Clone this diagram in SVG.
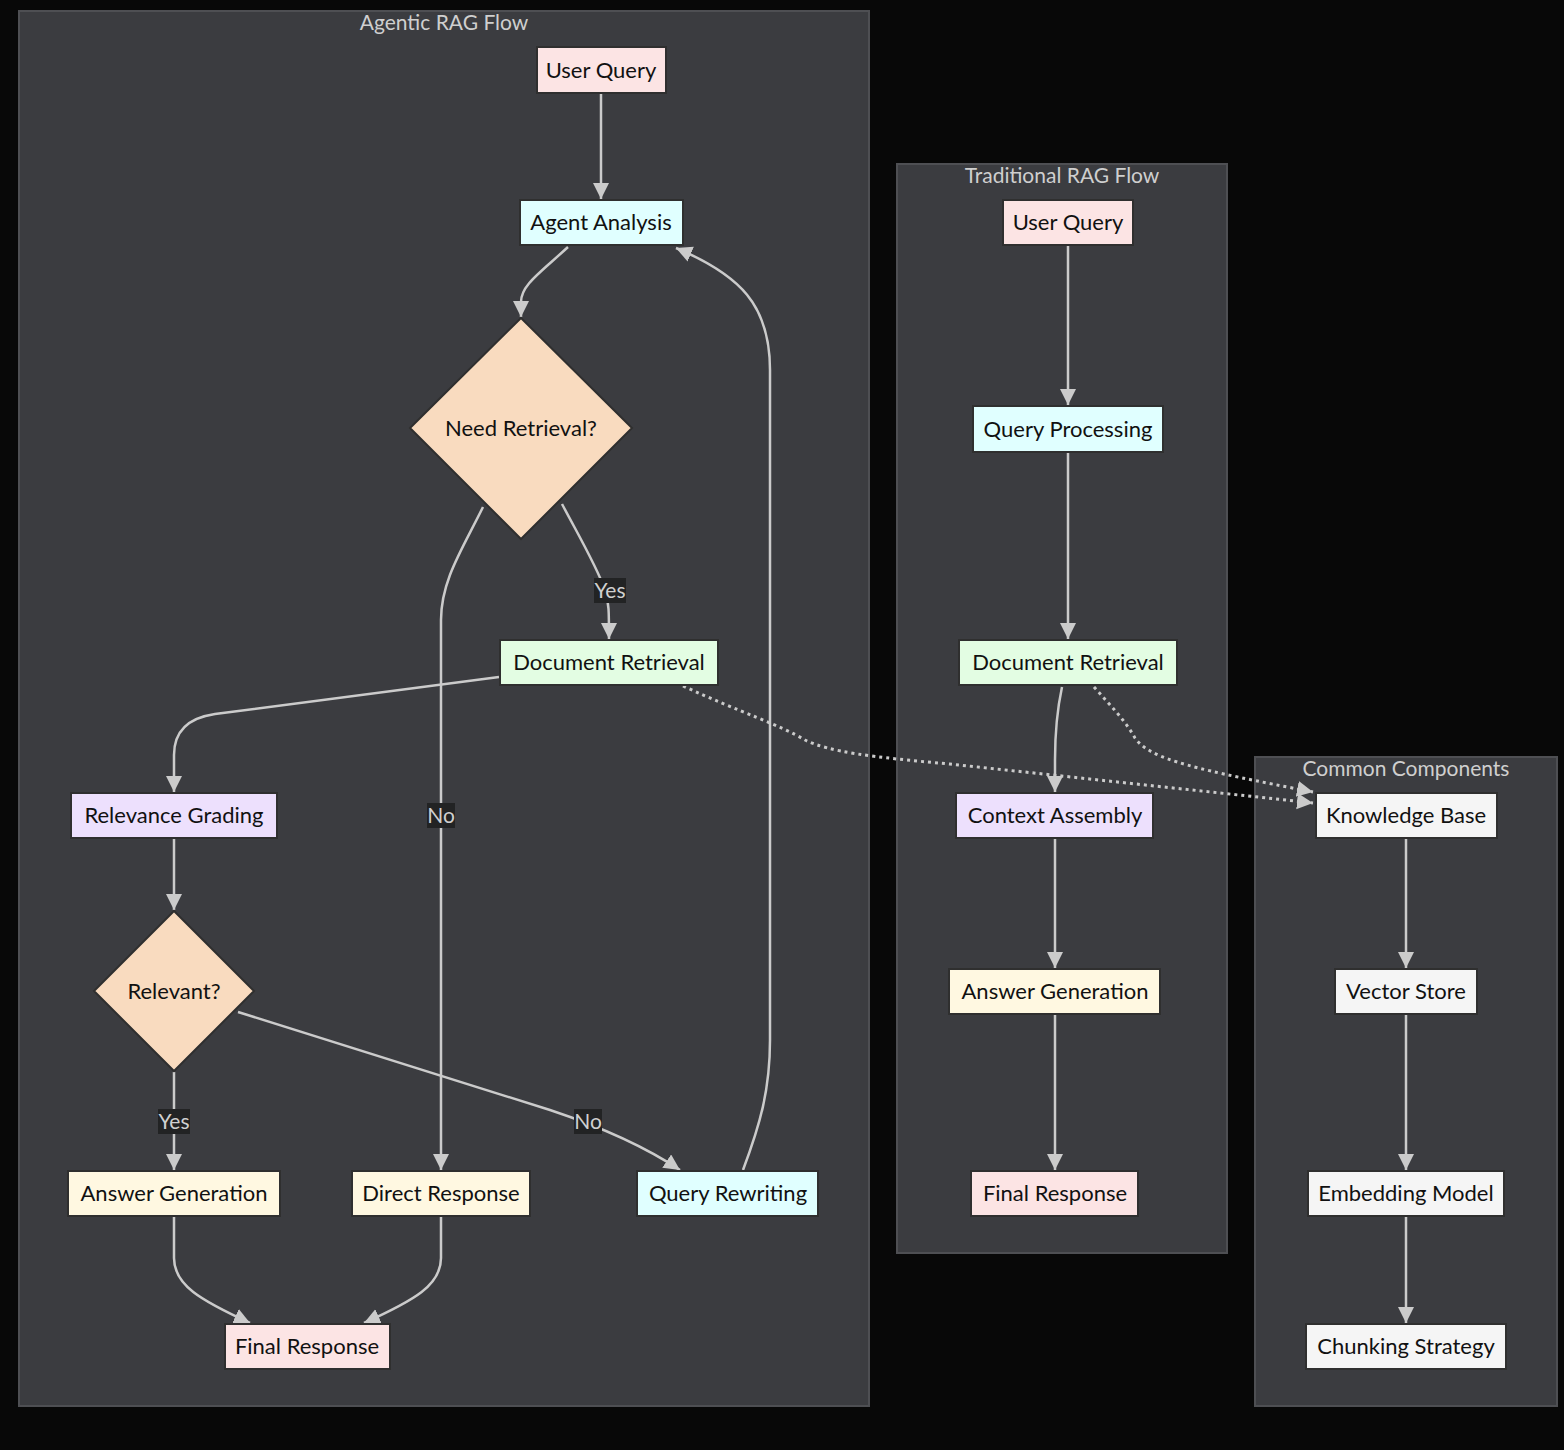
<svg xmlns="http://www.w3.org/2000/svg" width="1564" height="1450" viewBox="0 0 1564 1450">
<style>
.cl{fill:#3b3c40;stroke:#4e4f53;stroke-width:2}
.ct{font-family:"Lato","Liberation Sans",sans-serif;font-size:21px;fill:#cfcfcf;text-anchor:middle}
.n{stroke:#2f2f2f;stroke-width:2}
.t{font-family:"Lato","Liberation Sans",sans-serif;font-size:22px;fill:#111;text-anchor:middle}
.e{fill:none;stroke:#cbcbcb;stroke-width:2.5}
.d{stroke-dasharray:3 4;stroke-width:3}
.lb{fill:#222324}
.lt{font-family:"Lato","Liberation Sans",sans-serif;font-size:21px;fill:#d0d0d0;text-anchor:middle}
.pk{fill:#fce4e4}.cy{fill:#e0ffff}.pe{fill:#f9dbbf}.gr{fill:#e3fde3}.lv{fill:#ede0fd}.ye{fill:#fff8e1}.wh{fill:#f5f5f5}
</style>
<defs>
<marker id="ar" markerUnits="userSpaceOnUse" markerWidth="18" markerHeight="18" refX="16" refY="8" orient="auto">
<path d="M0,0 L16,8 L0,16 z" fill="#cbcbcb"/>
</marker>
</defs>
<rect x="0" y="0" width="1564" height="1450" fill="#080808"/>
<g id="clusters">
<g id="agentic"><rect class="cl" x="19" y="11" width="850" height="1395"/><text class="ct" x="444" y="30">Agentic RAG Flow</text></g>
<g id="traditional"><rect class="cl" x="897" y="164" width="330" height="1089"/><text class="ct" x="1062" y="183">Traditional RAG Flow</text></g>
<g id="common"><rect class="cl" x="1255" y="757" width="302" height="649"/><text class="ct" x="1406" y="776">Common Components</text></g>
</g>
<g id="edges">
<path class="e" marker-end="url(#ar)" d="M601,94 L601,199"/>
<path class="e" marker-end="url(#ar)" d="M568,247 C540,273 521,285 521,302 L521,317"/>
<path class="e" marker-end="url(#ar)" d="M562,504 C580,538 597,567 605,590 C609,602 609,612 609,639"/>
<path class="e" marker-end="url(#ar)" d="M483,507 C463,548 441,580 441,620 L441,1170"/>
<path class="e" marker-end="url(#ar)" d="M499,677 L215,714 Q174,720 174,755 L174,792"/>
<path class="e" marker-end="url(#ar)" d="M174,839 L174,910"/>
<path class="e" marker-end="url(#ar)" d="M174,1072 L174,1170"/>
<path class="e" marker-end="url(#ar)" d="M238,1012 L550,1110 C610,1130 650,1150 680,1170"/>
<path class="e" marker-end="url(#ar)" d="M743,1170 C760,1125 770,1090 770,1040 L770,370 C770,305 740,275 676,248"/>
<path class="e" marker-end="url(#ar)" d="M174,1217 L174,1258 C174,1285 200,1300 250,1323"/>
<path class="e" marker-end="url(#ar)" d="M441,1217 L441,1258 C441,1285 415,1300 364,1323"/>
<path class="e d" marker-end="url(#ar)" d="M683,686 C740,712 780,725 805,740 C830,752 870,757 950,764 L1313,803"/>
<path class="e d" marker-end="url(#ar)" d="M1094,687 C1110,705 1125,720 1135,738 C1150,760 1200,770 1313,792"/>
<path class="e" marker-end="url(#ar)" d="M1068,246 L1068,405"/>
<path class="e" marker-end="url(#ar)" d="M1068,453 L1068,639"/>
<path class="e" marker-end="url(#ar)" d="M1062,687 C1056,715 1055,740 1055,760 L1055,792"/>
<path class="e" marker-end="url(#ar)" d="M1055,839 L1055,968"/>
<path class="e" marker-end="url(#ar)" d="M1055,1015 L1055,1170"/>
<path class="e" marker-end="url(#ar)" d="M1406,839 L1406,968"/>
<path class="e" marker-end="url(#ar)" d="M1406,1015 L1406,1170"/>
<path class="e" marker-end="url(#ar)" d="M1406,1217 L1406,1323"/>
<g id="edge-labels">
<rect class="lb" x="594" y="578" width="32" height="25"/><text class="lt" x="610" y="598">Yes</text>
<rect class="lb" x="427" y="803" width="28" height="25"/><text class="lt" x="441" y="823">No</text>
<rect class="lb" x="158" y="1109" width="32" height="25"/><text class="lt" x="174" y="1129">Yes</text>
<rect class="lb" x="574" y="1109" width="28" height="25"/><text class="lt" x="588" y="1129">No</text>
</g>
</g>
<g id="nodes">
<g id="a-user-query"><rect class="n pk" x="537" y="47" width="129" height="46"/><text class="t" x="601" y="78">User Query</text></g>
<g id="a-agent-analysis"><rect class="n cy" x="520" y="200" width="163" height="45"/><text class="t" x="601" y="230">Agent Analysis</text></g>
<g id="a-need-retrieval"><polygon class="n pe" points="521,318 632,428 521,539 410,428"/><text class="t" x="521" y="436">Need Retrieval?</text></g>
<g id="a-doc-retrieval"><rect class="n gr" x="500" y="640" width="218" height="45"/><text class="t" x="609" y="670">Document Retrieval</text></g>
<g id="a-relevance-grading"><rect class="n lv" x="71" y="793" width="206" height="45"/><text class="t" x="174" y="823">Relevance Grading</text></g>
<g id="a-relevant"><polygon class="n pe" points="174,911 254,991 174,1071 94,991"/><text class="t" x="174" y="999">Relevant?</text></g>
<g id="a-answer-generation"><rect class="n ye" x="68" y="1171" width="212" height="45"/><text class="t" x="174" y="1201">Answer Generation</text></g>
<g id="a-direct-response"><rect class="n ye" x="352" y="1171" width="178" height="45"/><text class="t" x="441" y="1201">Direct Response</text></g>
<g id="a-query-rewriting"><rect class="n cy" x="637" y="1171" width="181" height="45"/><text class="t" x="728" y="1201">Query Rewriting</text></g>
<g id="a-final-response"><rect class="n pk" x="225" y="1324" width="165" height="45"/><text class="t" x="307" y="1354">Final Response</text></g>
<g id="t-user-query"><rect class="n pk" x="1003" y="200" width="130" height="45"/><text class="t" x="1068" y="230">User Query</text></g>
<g id="t-query-processing"><rect class="n cy" x="973" y="406" width="190" height="46"/><text class="t" x="1068" y="437">Query Processing</text></g>
<g id="t-doc-retrieval"><rect class="n gr" x="959" y="640" width="218" height="45"/><text class="t" x="1068" y="670">Document Retrieval</text></g>
<g id="t-context-assembly"><rect class="n lv" x="956" y="793" width="197" height="45"/><text class="t" x="1055" y="823">Context Assembly</text></g>
<g id="t-answer-generation"><rect class="n ye" x="949" y="969" width="211" height="45"/><text class="t" x="1055" y="999">Answer Generation</text></g>
<g id="t-final-response"><rect class="n pk" x="971" y="1171" width="167" height="45"/><text class="t" x="1055" y="1201">Final Response</text></g>
<g id="c-knowledge-base"><rect class="n wh" x="1316" y="793" width="181" height="45"/><text class="t" x="1406" y="823">Knowledge Base</text></g>
<g id="c-vector-store"><rect class="n wh" x="1335" y="969" width="142" height="45"/><text class="t" x="1406" y="999">Vector Store</text></g>
<g id="c-embedding-model"><rect class="n wh" x="1308" y="1171" width="196" height="45"/><text class="t" x="1406" y="1201">Embedding Model</text></g>
<g id="c-chunking-strategy"><rect class="n wh" x="1306" y="1324" width="200" height="45"/><text class="t" x="1406" y="1354">Chunking Strategy</text></g>
</g>
</svg>
